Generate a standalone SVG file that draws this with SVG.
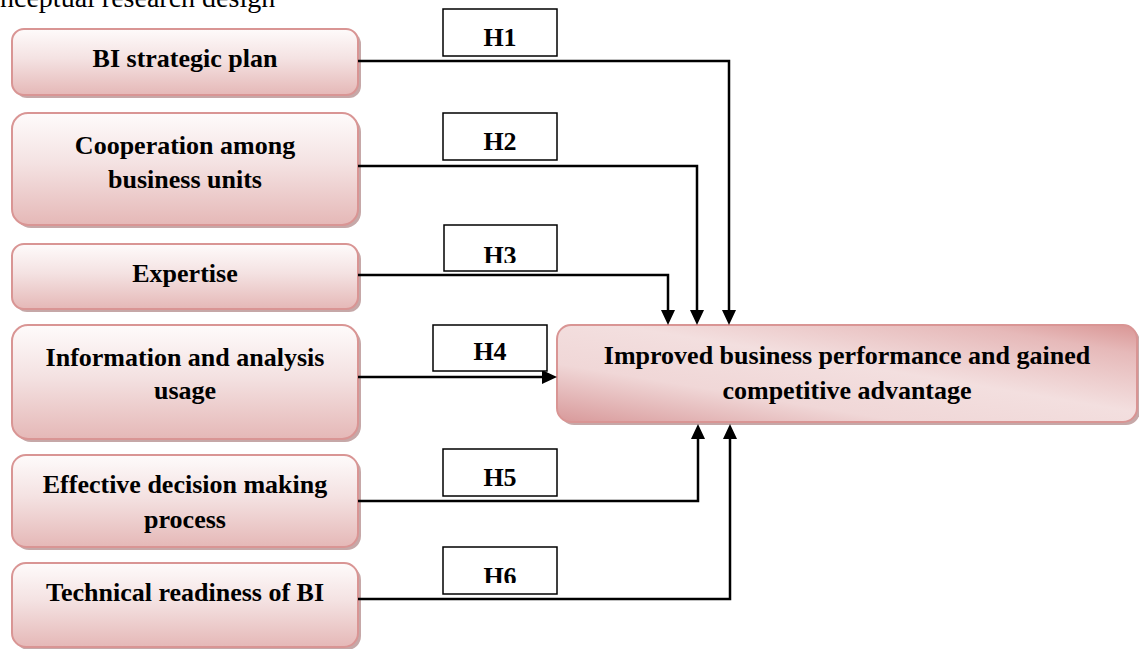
<svg xmlns="http://www.w3.org/2000/svg" width="1139" height="649" viewBox="0 0 1139 649">
<defs>
<linearGradient id="gNode" x1="0" y1="0" x2="0" y2="1">
<stop offset="0" stop-color="#fefbfb"/>
<stop offset="0.45" stop-color="#f4e2e2"/>
<stop offset="1" stop-color="#e5b8b7"/>
</linearGradient>
<linearGradient id="gTarget" x1="0" y1="1" x2="1" y2="0">
<stop offset="0" stop-color="#d8999a"/>
<stop offset="0.3" stop-color="#f0d7d7"/>
<stop offset="0.55" stop-color="#f3dfdf"/>
<stop offset="0.85" stop-color="#e6b9b9"/>
<stop offset="1" stop-color="#d99594"/>
</linearGradient>
<marker id="arr" viewBox="0 0 10 10" refX="10" refY="5" markerWidth="6" markerHeight="6" markerUnits="strokeWidth" orient="auto">
<path d="M0,0 L10,5 L0,10 z" fill="#000"/>
</marker>
<clipPath id="clipH3"><rect x="444" y="225" width="113" height="38"/></clipPath>
<clipPath id="clipH6"><rect x="443" y="547" width="114" height="36"/></clipPath>
</defs>
<style>
.shadow{fill:#b38b8b;opacity:0.75}
.node{fill:url(#gNode);stroke:#d99594;stroke-width:2}
.target{fill:url(#gTarget);stroke:#d99594;stroke-width:2}
.lbl{font-family:"Liberation Serif","Times New Roman",serif;font-weight:bold;font-size:26px;fill:#000;text-anchor:middle}
.hbox{fill:#fff;stroke:#000;stroke-width:1.5}
.conn{fill:none;stroke:#000;stroke-width:2.5}
.title{font-family:"Liberation Serif","Times New Roman",serif;font-size:28px;fill:#000}
</style>

<text class="title" x="0" y="7">nceptual research design</text>

<g id="n1">
<rect class="shadow" x="15" y="32" width="346" height="66" rx="12"/>
<rect class="node" x="12" y="29" width="346" height="66" rx="12"/>
<text class="lbl" x="185" y="67">BI strategic plan</text>
</g>
<g id="n2">
<rect class="shadow" x="15" y="116" width="346" height="112" rx="16"/>
<rect class="node" x="12" y="113" width="346" height="112" rx="16"/>
<text class="lbl" x="185" y="154">Cooperation among</text>
<text class="lbl" x="185" y="188">business units</text>
</g>
<g id="n3">
<rect class="shadow" x="15" y="247" width="346" height="65" rx="12"/>
<rect class="node" x="12" y="244" width="346" height="65" rx="12"/>
<text class="lbl" x="185" y="282">Expertise</text>
</g>
<g id="n4">
<rect class="shadow" x="15" y="328" width="346" height="114" rx="16"/>
<rect class="node" x="12" y="325" width="346" height="114" rx="16"/>
<text class="lbl" x="185" y="366">Information and analysis</text>
<text class="lbl" x="185" y="399">usage</text>
</g>
<g id="n5">
<rect class="shadow" x="15" y="458" width="346" height="92" rx="14"/>
<rect class="node" x="12" y="455" width="346" height="92" rx="14"/>
<text class="lbl" x="185" y="493">Effective decision making</text>
<text class="lbl" x="185" y="528">process</text>
</g>
<g id="n6">
<rect class="shadow" x="15" y="566" width="346" height="84" rx="14"/>
<rect class="node" x="12" y="563" width="346" height="84" rx="14"/>
<text class="lbl" x="185" y="601">Technical readiness of BI</text>
</g>
<g id="target">
<rect class="shadow" x="560" y="328" width="580" height="97" rx="14"/>
<rect class="target" x="557" y="325" width="580" height="97" rx="14"/>
<text class="lbl" x="847" y="364">Improved business performance and gained</text>
<text class="lbl" x="847" y="399">competitive advantage</text>
</g>

<g id="connectors">
<path class="conn" d="M358,61 H729 V310" />
<polygon points="722,310 736,310 729,325"/>
<path class="conn" d="M358,166 H697 V310" />
<polygon points="690,310 704,310 697,325"/>
<path class="conn" d="M358,275 H668 V310" />
<polygon points="661,310 675,310 668,325"/>
<path class="conn" d="M358,377 H542" />
<polygon points="542,370 542,384 557,377"/>
<path class="conn" d="M358,501 H698 V439" />
<polygon points="691,439 705,439 698,424"/>
<path class="conn" d="M358,599 H730 V439" />
<polygon points="723,439 737,439 730,424"/>
</g>

<g id="h1">
<rect class="hbox" x="443" y="9" width="114" height="47"/>
<text class="lbl" x="500" y="46">H1</text>
</g>
<g id="h2">
<rect class="hbox" x="443" y="113" width="114" height="47"/>
<text class="lbl" x="500" y="150">H2</text>
</g>
<g id="h3">
<rect class="hbox" x="444" y="225" width="113" height="46"/>
<text class="lbl" x="500" y="264" clip-path="url(#clipH3)">H3</text>
</g>
<g id="h4">
<rect class="hbox" x="433" y="325" width="114" height="46"/>
<text class="lbl" x="490" y="360">H4</text>
</g>
<g id="h5">
<rect class="hbox" x="443" y="449" width="114" height="47"/>
<text class="lbl" x="500" y="486">H5</text>
</g>
<g id="h6">
<rect class="hbox" x="443" y="547" width="114" height="47"/>
<text class="lbl" x="500" y="585" clip-path="url(#clipH6)">H6</text>
</g>
</svg>
